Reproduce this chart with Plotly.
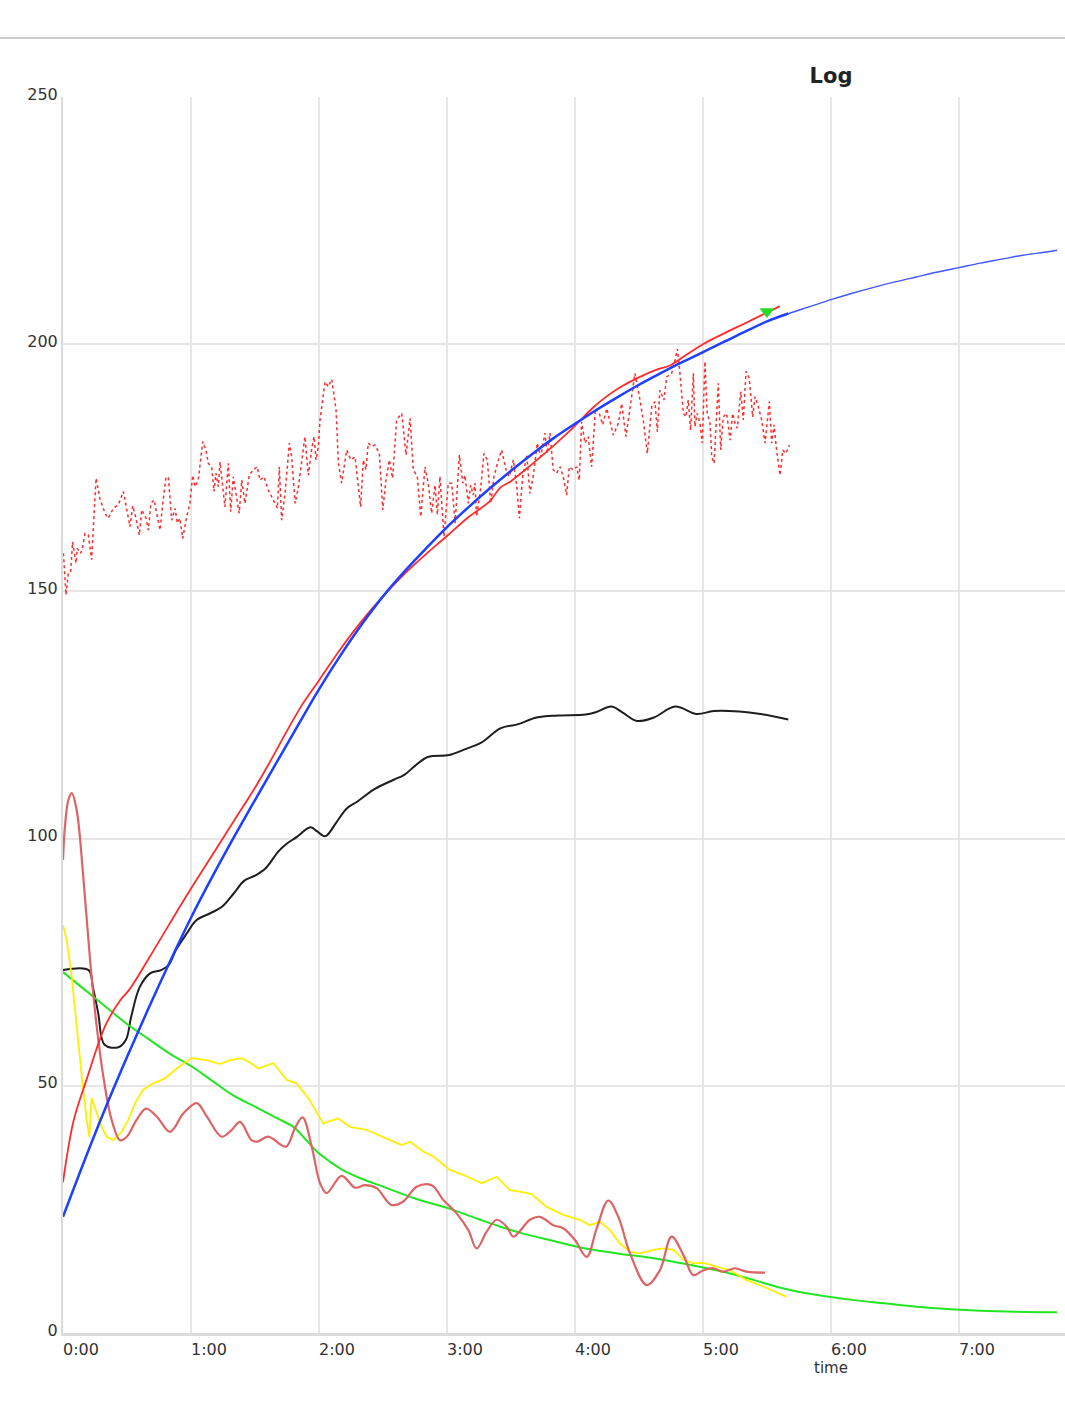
import plotly.graph_objects as go

# ---------------- data (time in minutes) ----------------
hour_ticks = [0, 60, 120, 180, 240, 300, 360, 420]
hour_labels = ["0:00", "1:00", "2:00", "3:00", "4:00", "5:00", "6:00", "7:00"]
y_ticks = [0, 50, 100, 150, 200, 250]

blue_t = [0, 10, 20, 30, 40, 50, 60, 70, 80, 90, 100, 110, 120, 130, 140, 150, 160, 170,
          180, 190, 200, 210, 220, 230, 240, 250, 260, 270, 280, 290, 300, 310, 320, 330,
          340, 350, 360, 370, 380, 390, 400, 410, 420, 430, 440, 450, 460, 466]
blue_v = [23.5, 34.8, 45.6, 55.8, 65.6, 75.0, 84.0, 92.3, 100.2, 107.8, 115.3, 122.8, 130.2,
          137.0, 143.3, 149.0, 154.0, 158.6, 163.0, 167.0, 170.8, 174.4, 177.8, 181.0, 183.9,
          186.7, 189.3, 191.8, 194.1, 196.3, 198.4, 200.5, 202.6, 204.6, 206.2, 207.6, 209.0,
          210.3, 211.5, 212.6, 213.6, 214.6, 215.5, 216.4, 217.2, 218.0, 218.6, 219.0]

red_t = [0, 5, 11, 20, 27, 31, 40, 50, 60, 70, 80, 90, 97, 105, 112, 120, 130, 140, 150,
         160, 170, 180, 190, 200, 205, 210, 220, 230, 240, 248, 255, 262, 270, 278, 285,
         292, 300, 310, 320, 330, 336]
red_v = [30.5, 43.0, 51.2, 62.3, 67.4, 69.4, 75.6, 82.8, 89.9, 96.7, 103.5, 110.3, 115.5,
         121.8, 127.0, 132.0, 138.3, 144.0, 149.0, 153.5, 157.5, 161.2, 165.0, 168.2, 171.0,
         172.3, 175.8, 179.5, 183.5, 187.0, 189.5, 191.5, 193.3, 194.8, 195.8, 197.8, 200.0,
         202.2, 204.3, 206.4, 207.7]

noise_t = [0.2, 1.4, 2.5, 3.6, 4.5, 6.1, 6.7, 8.3, 9.2, 10.3, 11.9, 13.4, 15.5, 17.3, 19.7,
           21.2, 23.6, 25.9, 28.3, 30.1, 31.4, 32.7, 34.2, 35.8, 36.9, 38.9, 40.0, 41.2, 42.7,
           43.9, 45.5, 46.7, 48.3, 49.4, 51.0, 52.5, 53.6, 54.8, 56.1, 58.0, 59.5, 60.8, 61.9,
           63.4, 65.5, 67.0, 68.1, 69.7, 70.8, 71.7, 72.8, 73.6, 74.9, 75.9, 77.5, 78.6, 79.8,
           81.4, 82.6, 83.8, 85.3, 87.3, 89.2, 91.1, 92.3, 94.2, 96.2, 98.6, 100.5, 101.4,
           102.5, 104.1, 106.1, 107.2, 108.8, 110.3, 111.9, 113.4, 115.0, 116.6, 117.7, 118.6,
           119.7, 120.5, 122.8, 124.4, 126.0, 128.0, 129.1, 130.6, 133.0, 134.9, 136.9, 138.0,
           139.5, 140.8, 142.0, 143.1, 144.7, 146.2, 148.3, 149.9, 151.4, 153.0, 154.5, 156.4,
           158.8, 160.8, 162.7, 164.2, 166.1, 167.7, 169.7, 171.2, 172.8, 174.4, 175.5, 176.7,
           178.6, 180.6, 182.2, 183.8, 185.8, 187.4, 188.4, 190.0, 191.1, 192.3, 193.1, 193.9,
           195.8, 197.3, 198.9, 200.5, 202.0, 204.1, 205.6, 207.7, 209.2, 211.1, 212.7, 213.9,
           215.5, 217.4, 218.9, 220.5, 222.3, 223.9, 225.9, 227.0, 228.3, 229.8, 231.4, 233.0,
           234.5, 236.1, 237.3, 239.2, 240.8, 242.0, 243.1, 244.7, 246.2, 247.8, 249.6, 251.4,
           253.0, 254.9, 258.0, 260.3, 261.9, 263.9, 266.1, 268.1, 270.2, 272.0, 273.9, 276.0,
           277.5, 278.6, 279.8, 281.7, 283.0, 285.3, 286.9, 288.0, 289.2, 290.8, 292.0, 293.1,
           294.2, 295.5, 296.2, 297.3, 298.6, 299.7, 300.9, 302.0, 303.3, 304.1, 305.2, 306.4,
           307.2, 308.3, 309.5, 311.1, 312.7, 313.9, 315.0, 316.1, 317.7, 318.9, 320.2, 321.7,
           323.3, 324.4, 325.9, 327.5, 329.1, 331.1, 332.2, 333.3, 334.5, 336.1, 337.4, 338.9,
           340.5]
noise_v = [157.7, 149.3, 153.7, 154.0, 160.0, 155.7, 158.7, 157.7, 159.0, 161.7, 161.4, 156.4,
           172.9, 168.8, 165.8, 164.8, 166.8, 167.5, 170.2, 166.1, 163.1, 167.3, 164.8, 161.4,
           166.5, 164.8, 162.4, 167.8, 168.5, 165.8, 162.4, 167.5, 173.2, 172.9, 164.4, 166.8,
           163.8, 164.8, 160.7, 165.1, 167.8, 173.5, 171.2, 172.5, 180.3, 178.6, 175.9, 175.2,
           170.2, 173.9, 171.2, 176.2, 170.5, 167.1, 175.9, 166.1, 173.2, 168.5, 165.8, 172.5,
           167.8, 173.5, 174.6, 175.2, 172.5, 173.2, 170.5, 168.5, 166.8, 175.2, 164.4, 169.8,
           180.0, 177.2, 167.8, 170.9, 176.2, 181.3, 173.5, 178.9, 181.3, 176.6, 179.3, 184.7,
           192.4, 191.4, 192.9, 186.7, 175.9, 171.9, 178.6, 176.6, 177.2, 173.2, 167.1, 176.6,
           174.6, 180.0, 179.3, 179.6, 177.9, 166.5, 172.5, 176.6, 172.9, 184.7, 186.0, 177.6,
           185.0, 174.6, 173.2, 165.1, 175.2, 171.9, 165.8, 171.5, 165.5, 173.2, 161.1, 171.9,
           171.9, 163.8, 177.6, 171.9, 173.5, 167.8, 171.5, 169.5, 171.9, 165.1, 170.9, 177.9,
           176.6, 167.8, 173.2, 176.6, 178.6, 174.6, 173.2, 176.6, 171.2, 164.8, 173.2, 177.6,
           169.8, 173.5, 180.0, 177.2, 182.0, 177.9, 182.0, 174.6, 173.9, 175.2, 173.2, 169.5,
           175.2, 174.6, 175.2, 172.5, 184.3, 180.0, 181.3, 175.2, 187.0, 186.0, 183.7, 187.0,
           181.6, 184.0, 188.0, 181.3, 188.0, 194.1, 189.4, 184.7, 177.9, 187.4, 188.4, 182.3,
           190.7, 188.7, 193.4, 194.1, 196.8, 199.0, 194.1, 186.0, 185.3, 188.7, 182.6, 194.1,
           183.3, 186.0, 184.0, 180.0, 196.5, 186.0, 184.0, 177.2, 175.9, 187.4, 192.1, 178.6,
           185.3, 186.0, 180.6, 186.0, 184.0, 183.0, 190.4, 184.7, 194.5, 193.1, 185.3, 189.4,
           187.4, 184.7, 180.0, 188.4, 180.0, 183.7, 178.6, 173.5, 178.6, 177.9, 179.6]

black_t = [0, 12, 14, 16.5, 19.5, 26, 29.5, 32, 36, 41, 46, 49.5, 53, 58, 62.5, 69, 74.5, 80,
           85, 90, 95, 101, 105, 109.5, 116, 119, 123, 128, 133, 138, 146, 155, 160, 165, 171,
           181, 188, 196, 205, 213, 222, 232, 245, 250, 257, 262, 269, 277, 287, 297, 305, 317,
           327, 340]
black_v = [73.4, 73.4, 70.0, 64.7, 58.3, 57.8, 59.3, 64.0, 70.0, 72.8, 73.4, 74.4, 77.5, 80.8,
           83.5, 84.9, 86.2, 88.9, 91.5, 92.5, 94.0, 97.4, 99.0, 100.3, 102.3, 101.5, 100.5,
           103.2, 106.1, 107.5, 110.0, 111.9, 112.9, 114.7, 116.5, 116.9, 118.0, 119.4, 122.3,
           123.1, 124.5, 124.9, 125.1, 125.6, 126.7, 125.6, 123.8, 124.5, 126.7, 125.2, 125.8,
           125.7, 125.2, 124.1]

green_t = [0, 10, 20, 30, 40, 50, 60, 70, 80, 90, 100, 108, 113, 119, 125, 131, 140, 150, 165,
           180, 195, 205, 215, 228, 245, 260, 277, 290, 302, 315, 324, 335, 344, 355, 370, 385,
           400, 416, 430, 447, 466]
green_v = [73.0, 69.5, 66.0, 62.5, 59.5, 56.5, 54.0, 51.0, 48.0, 45.8, 43.5, 41.7, 39.5, 36.7,
           34.7, 33.0, 31.2, 29.6, 27.2, 25.3, 23.0, 21.5, 20.2, 18.8, 17.1, 16.1, 15.1, 14.1,
           13.1, 11.8, 10.7, 9.3, 8.4, 7.6, 6.7, 6.0, 5.3, 4.8, 4.5, 4.3, 4.2]

yellow_t = [0, 1.7, 4.1, 6.4, 8.8, 11.1, 12.3, 13.4, 15.8, 18.1, 20.5, 23.6, 27.5, 30.6, 33.8,
            37.6, 42.3, 47.8, 53.3, 60.3, 67.4, 73.6, 78.3, 83.8, 88.0, 91.6, 98.6, 104.9, 109.5,
            115.0, 122.0, 129.0, 134.5, 142.3, 153.3, 158.8, 162.7, 168.9, 173.6, 181.4, 187.6,
            196.3, 203.3, 209.5, 214.2, 219.7, 226.7, 234.5, 242.3, 247.0, 251.7, 256.4, 261.1,
            265.8, 270.5, 276.7, 281.4, 286.1, 290.8, 295.5, 300.2, 306.4, 312.7, 320.5, 328.3,
            339.2]
yellow_v = [82.5, 79.5, 72.1, 62.0, 51.9, 43.1, 39.7, 47.5, 44.4, 41.7, 39.7, 39.0, 40.7, 43.1,
            46.5, 49.2, 50.5, 51.5, 53.5, 55.6, 55.2, 54.4, 55.2, 55.6, 54.6, 53.5, 54.6, 51.2,
            50.5, 47.5, 42.4, 43.4, 41.7, 41.1, 39.0, 38.0, 38.7, 36.7, 35.7, 33.0, 32.0, 30.3,
            31.6, 28.9, 28.6, 28.1, 25.5, 23.9, 22.9, 21.8, 22.5, 20.8, 18.1, 16.4, 16.1, 16.8,
            17.1, 16.8, 14.8, 14.1, 14.2, 13.4, 12.7, 10.7, 9.4, 7.3]

dusty_t = [0, 0.9, 2.5, 4.1, 6.4, 9.5, 12.7, 15.8, 18.9, 22.8, 26.7, 29.9, 34.5, 38.9, 43.9,
           50.2, 56.4, 62.7, 67.4, 74.4, 79.1, 83.0, 88.4, 91.0, 96.2, 104.5, 108.8, 112.3,
           116.6, 120.5, 123.6, 130.6, 136.9, 141.6, 147.0, 154.0, 159.5, 165.8, 172.8, 178.3,
           184.5, 190.0, 193.9, 198.6, 203.3, 208.0, 211.1, 218.9, 223.6, 229.8, 234.5, 240.0,
           245.5, 250.2, 255.6, 260.3, 265.8, 273.6, 279.8, 285.3, 290.8, 295.5, 300.2, 304.8,
           309.5, 315.0, 320.5, 329.1]
dusty_v = [95.7, 102.4, 107.8, 109.2, 105.8, 92.3, 75.4, 62.0, 51.9, 43.1, 39.0, 39.7, 43.1,
           45.4, 43.8, 40.7, 44.4, 46.5, 43.8, 39.7, 41.1, 42.7, 39.0, 38.7, 39.7, 37.7, 41.5,
           43.6, 37.7, 30.3, 28.3, 31.8, 29.4, 29.9, 29.3, 25.9, 26.6, 29.6, 29.9, 26.9, 24.2,
           20.8, 17.1, 20.5, 22.9, 21.5, 19.5, 22.9, 23.5, 21.8, 21.2, 18.8, 15.4, 21.2, 26.8,
           23.5, 16.1, 9.7, 12.7, 19.5, 15.8, 11.7, 12.7, 13.1, 12.4, 13.1, 12.4, 12.2]

marker_t = [330]
marker_v = [206.6]

# ---------------- figure ----------------
FONT = "DejaVu Sans"
fig = go.Figure()

fig.add_trace(go.Scatter(x=noise_t, y=noise_v, mode="lines",
                         line=dict(color="#ff2a2a", width=1.5, dash="dot")))
fig.add_trace(go.Scatter(x=black_t, y=black_v, mode="lines", line_shape="spline",
                         line=dict(color="#1e1e1e", width=2)))
fig.add_trace(go.Scatter(x=green_t, y=green_v, mode="lines", line_shape="spline",
                         line=dict(color="#22e622", width=2)))
fig.add_trace(go.Scatter(x=yellow_t, y=yellow_v, mode="lines",
                         line=dict(color="#ffee00", width=1.8)))
fig.add_trace(go.Scatter(x=dusty_t, y=dusty_v, mode="lines", line_shape="spline",
                         line=dict(color="#dc6464", width=2.2)))
fig.add_trace(go.Scatter(x=red_t, y=red_v, mode="lines", line_shape="spline",
                         line=dict(color="#ff2a2a", width=1.8)))
fig.add_trace(go.Scatter(x=blue_t, y=blue_v, mode="lines", line_shape="spline",
                         line=dict(color="#4058ff", width=1.4)))
n_thick = 35
fig.add_trace(go.Scatter(x=blue_t[:n_thick], y=blue_v[:n_thick], mode="lines", line_shape="spline",
                         line=dict(color="#2040ff", width=2.5)))
fig.add_trace(go.Scatter(x=marker_t, y=marker_v, mode="markers",
                         marker=dict(symbol="triangle-down", size=13, color="#22dd22")))

axis_common = dict(showgrid=True, gridcolor="#e6e6e6", gridwidth=2, zeroline=False,
                   showline=True, linecolor="#dcdcdc", ticks="",
                   tickfont=dict(family=FONT, size=16, color="#333333"))

fig.update_xaxes(range=[0, 469.7], tickmode="array", tickvals=hour_ticks, ticktext=hour_labels,
                 linewidth=3, ticklabelshift=18, ticklabelstandoff=0, **axis_common)
fig.update_yaxes(range=[0, 250], tickmode="array", tickvals=y_ticks,
                 linewidth=2, ticklabelshift=-3, ticklabelstandoff=0, **axis_common)

fig.update_layout(
    width=1065, height=1420,
    margin=dict(l=63, r=0, t=97, b=87),
    paper_bgcolor="white", plot_bgcolor="white",
    showlegend=False,
    title=dict(text="<b>Log</b>", x=831 / 1065, xanchor="center", y=1 - 76 / 1420,
               yanchor="middle", xref="container", yref="container",
               font=dict(family=FONT, size=21, color="#222222")),
    annotations=[dict(text="time", xref="paper", yref="paper",
                      x=(831 - 63) / 1002, y=-(1368 - 1333) / 1236,
                      xanchor="center", yanchor="middle", showarrow=False,
                      font=dict(family=FONT, size=15, color="#333333"))],
    shapes=[dict(type="line", xref="paper", yref="paper", x0=-63 / 1002, x1=1,
                 y0=(1333 - 38) / 1236, y1=(1333 - 38) / 1236,
                 line=dict(color="#cccccc", width=2))],
)

fig.write_html("out.html",
               config={"displayModeBar": False},
               post_script="document.body.style.margin='0';"
                           "document.body.style.overflow='hidden';")
